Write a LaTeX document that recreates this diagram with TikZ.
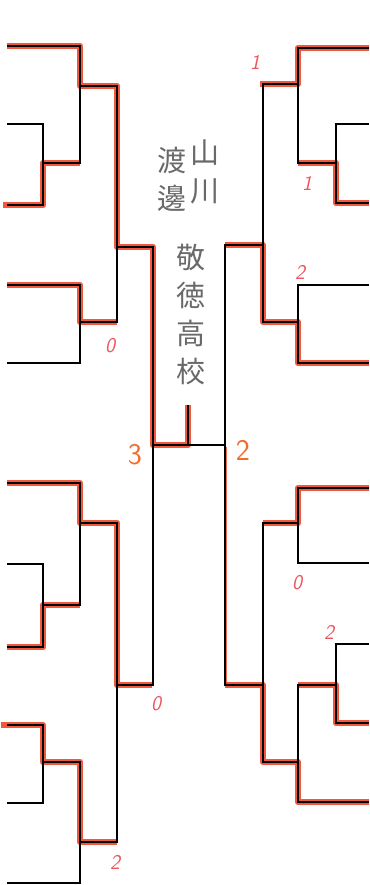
\documentclass[tikz,border=0pt]{standalone}
\usepackage{xcolor}
\usepackage{fontspec}
\newfontfamily\jpfont{Noto Sans CJK JP}
\definecolor{hilite}{RGB}{240,70,40}
\definecolor{scorepink}{RGB}{236,88,96}
\definecolor{scoreorange}{RGB}{242,108,48}
\definecolor{pencil}{RGB}{105,105,105}
\tikzset{
	winline/.style={hilite,line width=6.5pt,opacity=0.9,line join=round},
	thinwin/.style={hilite,line width=3pt,opacity=0.8},
	bracketline/.style={black,line width=1.5pt},
	score/.style={scorepink,font=\sffamily\itshape\fontsize{21}{21}\selectfont},
	bigscore/.style={scoreorange,font=\sffamily\fontsize{30}{30}\selectfont},
	namecol/.style={pencil,font=\jpfont\fontsize{29}{38}\selectfont,align=center,inner sep=0pt},
}

\begin{document}
\begin{tikzpicture}[x=1pt,y=-1pt]
	\useasboundingbox (0,0) rectangle (369,885);

	\draw[winline] (7,46) -- (80,46) -- (80,86) -- (117,86) -- (117,247) -- (153,247) -- (153,445) -- (188,445) -- (188,405);
	\draw[winline] (3,205) -- (43,205) -- (43,163) -- (80,163);
	\draw[winline] (7,285) -- (80,285) -- (80,322) -- (117,322);
	\draw[winline] (7,483) -- (80,483) -- (80,523) -- (117,523) -- (117,685) -- (152,685);
	\draw[winline] (7,647) -- (43,647) -- (43,605) -- (80,605);
	\draw[winline] (1,725) -- (43,725) -- (43,762) -- (80,762) -- (80,842) -- (117,842);
	\draw[winline] (369,48) -- (298,48) -- (298,84) -- (260,84);
	\draw[winline] (369,203) -- (336,203) -- (336,163) -- (298,163);
	\draw[winline] (369,363) -- (298,363) -- (298,322) -- (263,322) -- (263,245) -- (225,245);
	\draw[winline] (369,488) -- (298,488) -- (298,523) -- (263,523);
	\draw[winline] (369,723) -- (336,723) -- (336,685) -- (298,685);
	\draw[winline] (369,802) -- (298,802) -- (298,762) -- (263,762) -- (263,685) -- (225,685);
	\draw[thinwin] (225,685) -- (225,447);

	\draw[bracketline] (7,46) -- (80,46) -- (80,163) -- (43,163);
	\draw[bracketline] (7,124) -- (43,124) -- (43,205) -- (7,205);
	\draw[bracketline] (80,86) -- (117,86) -- (117,322) -- (80,322);
	\draw[bracketline] (7,285) -- (80,285) -- (80,363) -- (7,363);
	\draw[bracketline] (117,247) -- (153,247) -- (153,685) -- (117,685);
	\draw[bracketline] (7,483) -- (80,483) -- (80,605) -- (43,605);
	\draw[bracketline] (7,564) -- (43,564) -- (43,647) -- (7,647);
	\draw[bracketline] (80,523) -- (117,523) -- (117,842) -- (80,842);
	\draw[bracketline] (7,725) -- (43,725) -- (43,803) -- (7,803);
	\draw[bracketline] (43,762) -- (80,762) -- (80,883) -- (7,883);
	\draw[bracketline] (153,445) -- (225,445);
	\draw[bracketline] (188,445) -- (188,405);
	\draw[bracketline] (369,48) -- (298,48) -- (298,163) -- (336,163);
	\draw[bracketline] (369,124) -- (336,124) -- (336,203) -- (369,203);
	\draw[bracketline] (298,84) -- (263,84) -- (263,322) -- (298,322);
	\draw[bracketline] (369,285) -- (298,285) -- (298,363) -- (369,363);
	\draw[bracketline] (263,245) -- (225,245) -- (225,685) -- (263,685);
	\draw[bracketline] (369,488) -- (298,488) -- (298,563) -- (369,563);
	\draw[bracketline] (298,523) -- (263,523) -- (263,762) -- (298,762);
	\draw[bracketline] (369,644) -- (336,644) -- (336,723) -- (369,723);
	\draw[bracketline] (336,685) -- (298,685) -- (298,802) -- (369,802);

	\node[namecol] (yamakawa) at (205,172) {山\\川};
	\node[namecol] (watanabe) at (172,179) {渡\\邊};
	\node[namecol] (keitoku) at (191,315) {敬\\徳\\高\\校};

	\node[score] (sLa) at (110,346) {0};
	\node[bigscore] (sLfin) at (135,455) {3};
	\node[score] (sLb) at (156,704) {0};
	\node[score] (sLc) at (115,862) {2};
	\node[score] (sRa) at (255,62) {1};
	\node[score] (sRb) at (307,183) {1};
	\node[score] (sRc) at (300,272) {2};
	\node[bigscore] (sRfin) at (243,450) {2};
	\node[score] (sRd) at (297,583) {0};
	\node[score] (sRe) at (329,632) {2};
\end{tikzpicture}
\end{document}
